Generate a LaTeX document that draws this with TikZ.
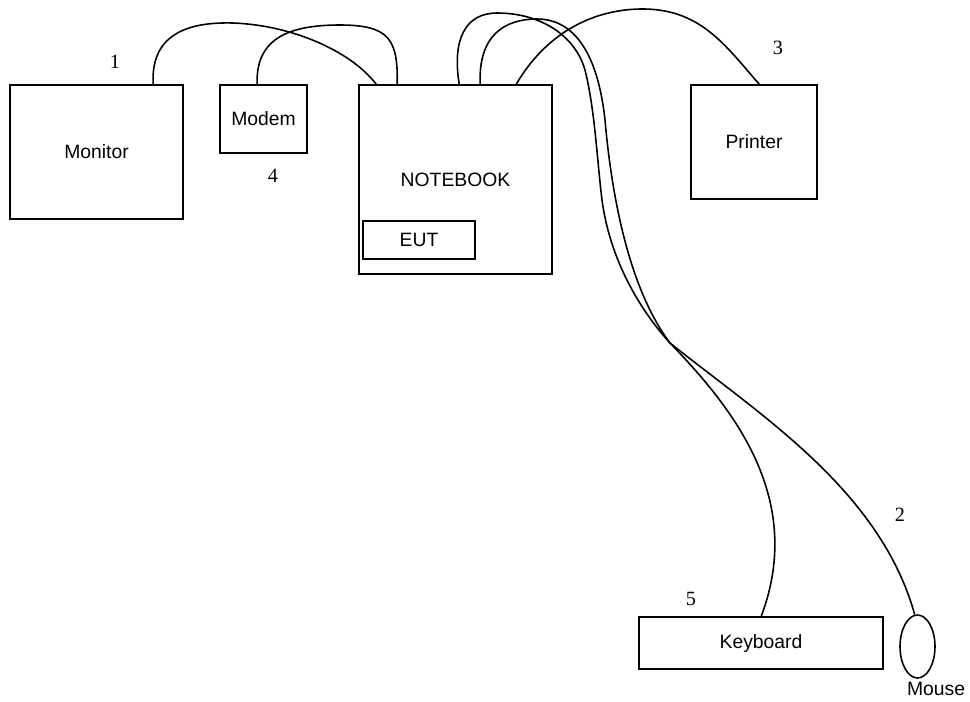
\documentclass[tikz,border=0pt]{standalone}
\usepackage{fontspec}
\setmainfont{Liberation Serif}
\setsansfont{Liberation Sans}
\usetikzlibrary{shapes.geometric}
\begin{document}
\begin{tikzpicture}[x=0.02cm, y=-0.02cm,
  box/.style={draw, line width=0.9pt, inner sep=0pt,
              font=\sffamily\fontsize{11}{13}\selectfont},
  mousebody/.style={box, ellipse},
  cable/.style={line width=0.9pt},
  num/.style={font=\fontsize{11.5}{13}\selectfont},
  tag/.style={font=\sffamily\fontsize{11}{13}\selectfont},
]
\useasboundingbox (0,0) rectangle (970,701);

\node[box, minimum width=3.46cm, minimum height=2.68cm] (monitor)  at (96.5,152)   {Monitor};
\node[box, minimum width=1.74cm, minimum height=1.36cm] (modem)    at (263.5,119)   {Modem};
\node[box, minimum width=3.86cm, minimum height=3.78cm] (notebook) at (455.5,179.5) {NOTEBOOK};
\node[box, minimum width=2.24cm, minimum height=0.76cm] (eut)      at (419,240)     {EUT};
\node[box, minimum width=2.52cm, minimum height=2.28cm] (printer)  at (754,142)     {Printer};
\node[box, minimum width=4.88cm, minimum height=1.04cm] (keyboard) at (761,643)     {Keyboard};
\node[mousebody, minimum width=0.7cm, minimum height=1.26cm] (mouse) at (917.5,646.5) {};
\node[tag] (mouselabel) at (936,689) {Mouse};

% cables, numbered as in the setup list
\draw[cable] ([shift={(144,0)}]monitor.north west)
  .. controls (150,30) and (195,22) .. (233,23)
  .. controls (290,25) and (350,50) .. ([shift={(18,0)}]notebook.north west);
\draw[cable] ([shift={(38,0)}]modem.north west)
  .. controls (255,35) and (295,25) .. (340,25)
  .. controls (390,25) and (398,40) .. ([shift={(39,0)}]notebook.north west);
\draw[cable] ([shift={(101,0)}]notebook.north west)
  .. controls (452,40) and (465,13) .. (497,13)
  .. controls (540,13) and (575,35) .. (585,70)
  .. controls (595,110) and (597,160) .. (602,200)
  .. controls (610,260) and (640,310) .. (670,343)
  .. controls (760,415) and (880,490) .. (mouse.95);
\draw[cable] ([shift={(122,0)}]notebook.north west)
  .. controls (478,35) and (505,19) .. (537,19)
  .. controls (575,19) and (598,55) .. (605,120)
  .. controls (612,200) and (630,290) .. (670,343)
  .. controls (735,410) and (805,500) .. ([shift={(123,0)}]keyboard.north west);
\draw[cable] ([shift={(158,0)}]notebook.north west)
  .. controls (545,35) and (590,10) .. (640,9)
  .. controls (700,8) and (725,45) .. ([shift={(69,0)}]printer.north west);

\node[num] (n1) at (115,62)  {1};
\node[num] (n2) at (900,515) {2};
\node[num] (n3) at (778,48)  {3};
\node[num] (n4) at (273,176) {4};
\node[num] (n5) at (691,599) {5};
\end{tikzpicture}
\end{document}
